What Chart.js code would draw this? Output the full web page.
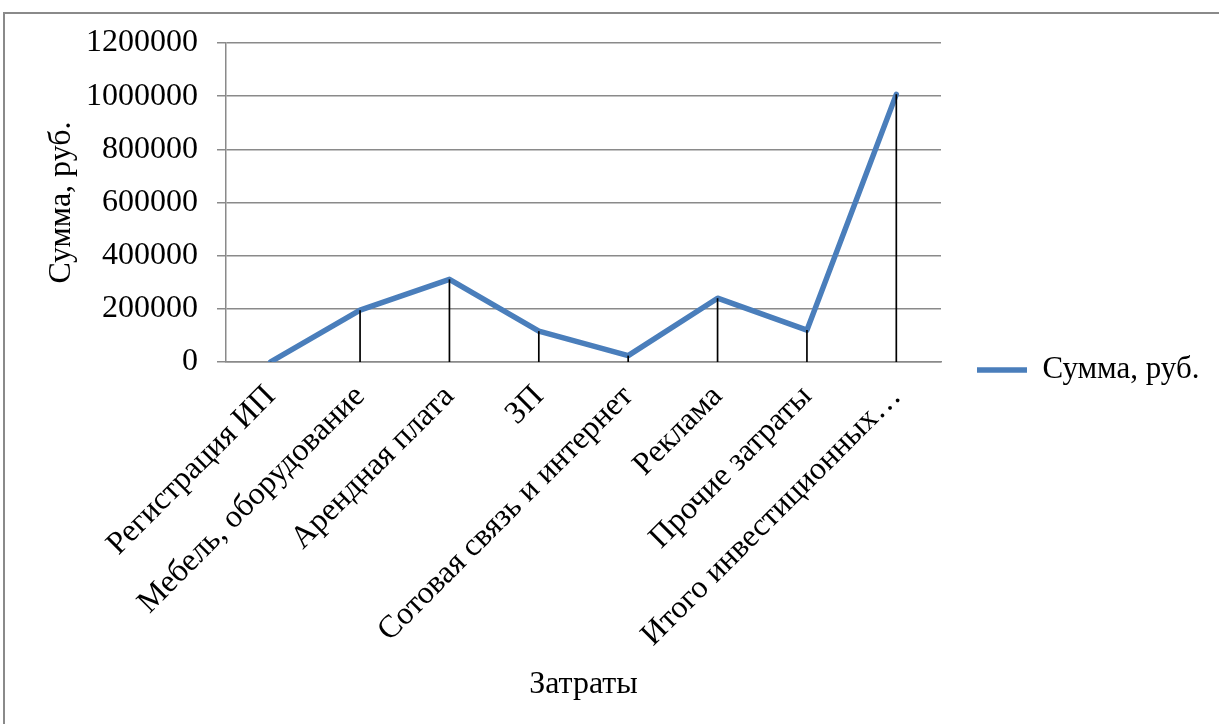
<!DOCTYPE html>
<html>
<head>
<meta charset="utf-8">
<script src="https://cdn.jsdelivr.net/npm/chart.js@4.4.1/dist/chart.umd.min.js"></script>
<style>
  html, body { margin: 0; padding: 0; background: #fff; overflow: hidden; }
  #frame { position: absolute; left: 3px; top: 12px; width: 1240px; height: 740px;
           border: 2px solid #8a8a8a; box-sizing: border-box; }
  #c { position: absolute; left: 0; top: 0; }
</style>
</head>
<body>
<div id="frame"></div>
<canvas id="c" width="1219" height="724"></canvas>
<script>
// Статьи затрат и суммы, руб.
const categories = [
  'Регистрация ИП',
  'Мебель, оборудование',
  'Арендная плата',
  'ЗП',
  'Сотовая связь и интернет',
  'Реклама',
  'Прочие затраты',
  'Итого инвестиционных…'
];
const amounts = [800, 195000, 311000, 116000, 24000, 240000, 120000, 1006800];
const seriesName = 'Сумма, руб.';
const yAxisTitle = 'Сумма, руб.';
const xAxisTitle = 'Затраты';
const yMin = 0;
const yMax = 1200000;
const yStep = 200000;

const fontFamily = '"Liberation Serif", "Times New Roman", serif';
const serif = { family: fontFamily, size: 32 };
const legendFont = { family: fontFamily, size: 31 };
const gridGray = '#8a8a8a';

// Вертикальные линии от каждой точки до оси категорий
const dropLines = {
  id: 'dropLines',
  afterDatasetsDraw(chart) {
    const meta = chart.getDatasetMeta(0);
    const y0 = chart.scales.y.getPixelForValue(0);
    const ctx = chart.ctx;
    ctx.save();
    ctx.strokeStyle = '#000';
    ctx.lineWidth = 1.7;
    meta.data.forEach(pt => {
      ctx.beginPath();
      ctx.moveTo(pt.x, pt.y);
      ctx.lineTo(pt.x, y0);
      ctx.stroke();
    });
    ctx.restore();
  }
};

// Фиксированная ширина легенды справа
const legendWidth = {
  id: 'legendWidth',
  beforeInit(chart) {
    const lg = chart.legend;
    const fit = lg.fit.bind(lg);
    lg.fit = function () { fit(); this.width = 278; };
  }
};

new Chart(document.getElementById('c'), {
  type: 'line',
  data: {
    labels: categories,
    datasets: [{
      label: seriesName,
      data: amounts,
      borderColor: '#4a7ebb',
      backgroundColor: '#4a7ebb',
      borderWidth: 5.5,
      borderCapStyle: 'round',
      borderJoinStyle: 'round',
      pointRadius: 0,
      tension: 0,
      fill: false
    }]
  },
  options: {
    responsive: false,
    animation: false,
    layout: { padding: { left: 38, top: 43, right: 0, bottom: 27 } },
    plugins: {
      legend: {
        position: 'right',
        labels: {
          usePointStyle: true,
          pointStyle: 'line',
          pointStyleWidth: 50,
          padding: 36,
          color: '#000',
          font: legendFont
        }
      },
      tooltip: { enabled: false }
    },
    scales: {
      x: {
        offset: true,
        grid: { display: false },
        border: { color: gridGray, width: 1.5 },
        ticks: { minRotation: 45, maxRotation: 45, autoSkip: false, color: '#000', font: serif, padding: 8 },
        title: { display: true, text: xAxisTitle, color: '#000', font: serif, padding: { top: 0, bottom: -7 } },
        afterFit(s) { s.height = 335; }
      },
      y: {
        min: yMin,
        max: yMax,
        ticks: { stepSize: yStep, color: '#000', font: serif, padding: 19, callback: v => String(v) },
        grid: { color: gridGray, lineWidth: 1.5, tickLength: 9 },
        border: { color: gridGray, width: 1.5 },
        title: { display: true, text: yAxisTitle, color: '#000', font: serif, padding: { top: 4, bottom: 0 } },
        afterFit(s) { s.width = 188; }
      }
    }
  },
  plugins: [dropLines, legendWidth]
});
</script>
</body>
</html>
